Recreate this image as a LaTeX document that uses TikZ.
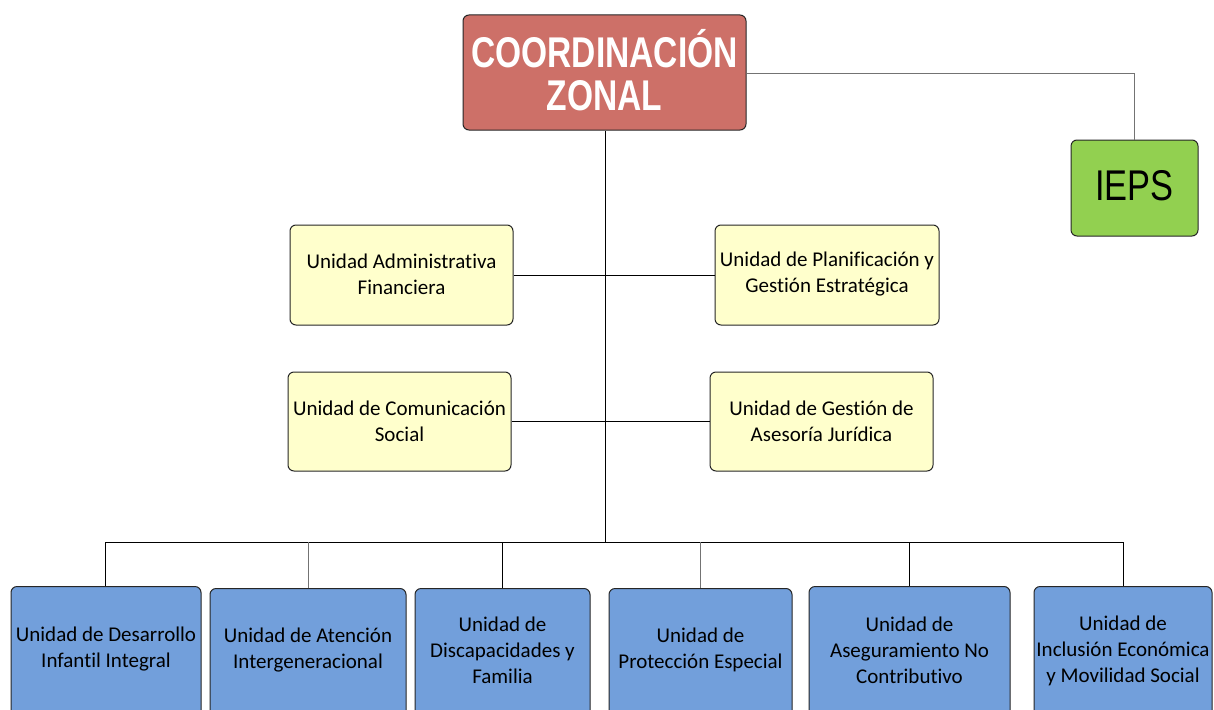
\documentclass[tikz,border=0pt]{standalone}
\usepackage{fontspec}
\setmainfont[Ligatures={NoCommon}]{Carlito}
\newfontfamily\narrowbold[FakeStretch=0.78]{Liberation Sans Bold}
\newfontfamily\narrowreg[FakeStretch=0.8]{Liberation Sans}
\definecolor{coordred}{HTML}{CD7068}
\definecolor{iepsgreen}{HTML}{92D050}
\definecolor{unityellow}{HTML}{FFFFCC}
\definecolor{unitblue}{HTML}{729FDB}
\begin{document}
\begin{tikzpicture}[x=1pt,y=-1pt,
  boxbase/.style={draw=black!85, line width=1pt, rounded corners=6pt, inner sep=0pt},
  txt/.style={align=center, font=\fontsize{21}{26}\selectfont, inner sep=0pt},
  link/.style={draw=black, line width=0.9pt},
  glink/.style={draw=black!55, line width=0.9pt}]
\useasboundingbox (0,0) rectangle (1214,709);
\clip (0,0) rectangle (1214,709);
% top
\node[boxbase, fill=coordred, minimum width=283pt, minimum height=115pt] (coord) at (604.5,72.5) {};
\node[align=center, text=white, font=\narrowbold\fontsize{43}{43}\selectfont, inner sep=0pt] at (604.5,70) {COORDINACIÓN\\ZONAL};
\node[boxbase, fill=iepsgreen, minimum width=127pt, minimum height=96pt] (ieps) at (1134.5,188) {};
\node[font=\narrowreg\fontsize{43}{43}\selectfont, inner sep=0pt] at (1134.5,186) {IEPS};
% staff units
\node[boxbase, fill=unityellow, minimum width=223pt, minimum height=100pt] (adm) at (401.5,275) {};
\node[txt] at (401.5,274) {Unidad Administrativa\\Financiera};
\node[boxbase, fill=unityellow, minimum width=224pt, minimum height=100pt] (plan) at (827,275) {};
\node[txt] at (827,274) {Unidad de Planificación y\\Gestión Estratégica};
\node[boxbase, fill=unityellow, minimum width=223pt, minimum height=99pt] (com) at (399.5,421.5) {};
\node[txt] at (399.5,421) {Unidad de Comunicación\\Social};
\node[boxbase, fill=unityellow, minimum width=223pt, minimum height=99pt] (jur) at (821.5,421.5) {};
\node[txt] at (821.5,421) {Unidad de Gestión de\\Asesoría Jurídica};
% bottom units
\node[boxbase, fill=unitblue, minimum width=190pt, minimum height=140pt, anchor=north] (u1) at (106,586) {};
\node[txt] at (106,649) {Unidad de Desarrollo\\Infantil Integral};
\node[boxbase, fill=unitblue, minimum width=196pt, minimum height=140pt, anchor=north] (u2) at (308,588) {};
\node[txt] at (308,650) {Unidad de Atención\\Intergeneracional};
\node[boxbase, fill=unitblue, minimum width=175pt, minimum height=140pt, anchor=north] (u3) at (502.5,588) {};
\node[txt] at (502.5,650) {Unidad de\\Discapacidades y\\Familia};
\node[boxbase, fill=unitblue, minimum width=183pt, minimum height=140pt, anchor=north] (u4) at (700.5,588) {};
\node[txt] at (700.5,650) {Unidad de\\Protección Especial};
\node[boxbase, fill=unitblue, minimum width=201pt, minimum height=140pt, anchor=north] (u5) at (909.5,586) {};
\node[txt] at (909.5,650) {Unidad de\\Aseguramiento No\\Contributivo};
\node[boxbase, fill=unitblue, minimum width=178pt, minimum height=140pt, anchor=north] (u6) at (1123,586) {};
\node[txt] at (1123,651) {Unidad de\\Inclusión Económica\\y Movilidad Social};
% connectors
\coordinate (trunkend) at (605,542);
\coordinate (barL) at (105,542);
\coordinate (barR) at (1123,542);
\draw[glink] (coord.east |- 0,73) -| (ieps.north);
\draw[link] (coord.south -| trunkend) -- (trunkend);
\draw[link] (adm.east) -- (plan.west);
\draw[link] (com.east) -- (jur.west);
\draw[link] (barL) -- (barR);
\draw[link] (barL) -- (u1.north -| barL);
\draw[glink] (u2.north) -- (u2.north |- barL);
\draw[link] (u3.north) -- (u3.north |- barL);
\draw[glink] (u4.north) -- (u4.north |- barL);
\draw[link] (u5.north) -- (u5.north |- barL);
\draw[link] (barR) -- (u6.north -| barR);
\end{tikzpicture}
\end{document}
